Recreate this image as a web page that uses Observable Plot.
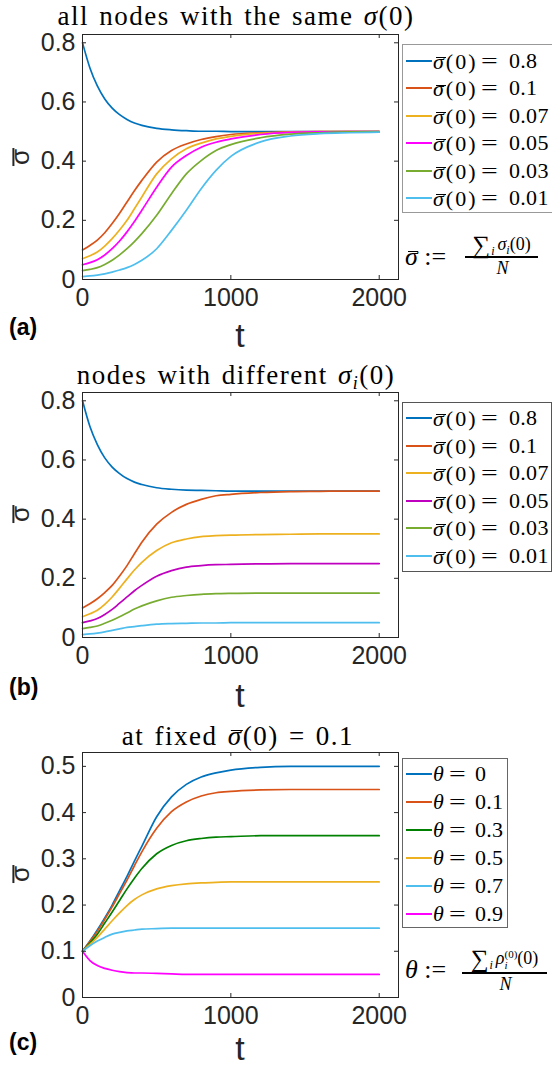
<!DOCTYPE html>
<html>
<head>
<meta charset="utf-8">
<script src="https://cdn.jsdelivr.net/npm/d3@7"></script>
<script src="https://cdn.jsdelivr.net/npm/@observablehq/plot@0.6"></script>
<style>
  html, body { margin: 0; padding: 0; background: #fff; }
  #root { position: relative; width: 552px; height: 1068px; overflow: hidden; background: #fff; }
  .abs { position: absolute; white-space: nowrap; line-height: 1; }
  .serif { font-family: "Liberation Serif", "DejaVu Serif", serif; color: #000; }
  .sans { font-family: "Liberation Sans", Arial, sans-serif; color: #262626; }
  .legend { position: absolute; background: #fff; box-sizing: border-box; }
  .part { position: absolute; top: 0; line-height: 24px; height: 24px; white-space: nowrap; }
  .sw { position: absolute; left: 3px; top: 11px; width: 26px; height: 2px; }
  .ylab { transform: translate(-50%, -50%) rotate(-90deg); }
  .ob { position: relative; display: inline-block; line-height: 1.2; }
  .ob > .barl { position: absolute; border-top: 1.4px solid currentColor; }
  .title { letter-spacing: 1.5px; word-spacing: 2px; }
  .stack { display: inline-flex; flex-direction: column; vertical-align: middle; line-height: 0.95; font-size: 11px; }
</style>
</head>
<body>
<div id="root"></div>
<script>
// ---------------- data ----------------
const tGrid = [0, 50, 100, 150, 200, 250, 300, 350, 400, 500, 600, 700, 800, 900, 1000, 1200, 1400, 1600, 1800, 2000];
const xTicks = [0, 1000, 2000];
const yTicksAB = [0, 0.2, 0.4, 0.6, 0.8];
const yTicksC = [0, 0.1, 0.2, 0.3, 0.4, 0.5];

// panel (a): all nodes with the same sigma(0)
const labelsA = ["0.8", "0.1", "0.07", "0.05", "0.03", "0.01"];
const a08 = [0.8, 0.715, 0.654, 0.610, 0.579, 0.557, 0.541, 0.529, 0.521, 0.511, 0.506, 0.503, 0.501, 0.501, 0.5, 0.5, 0.5, 0.5, 0.5, 0.5];
const a01 = [0.1, 0.115, 0.133, 0.158, 0.189, 0.224, 0.262, 0.300, 0.335, 0.397, 0.436, 0.458, 0.473, 0.483, 0.490, 0.496, 0.499, 0.5, 0.5, 0.5];
const a007 = [0.07, 0.080, 0.093, 0.113, 0.138, 0.167, 0.200, 0.239, 0.279, 0.357, 0.408, 0.442, 0.461, 0.475, 0.484, 0.494, 0.498, 0.5, 0.5, 0.5];
const a005 = [0.05, 0.057, 0.067, 0.083, 0.104, 0.130, 0.161, 0.196, 0.234, 0.312, 0.380, 0.419, 0.447, 0.464, 0.475, 0.490, 0.497, 0.499, 0.5, 0.5];
const a003 = [0.03, 0.034, 0.040, 0.051, 0.065, 0.083, 0.104, 0.128, 0.155, 0.217, 0.290, 0.357, 0.402, 0.436, 0.456, 0.479, 0.491, 0.496, 0.499, 0.5];
const a001 = [0.01, 0.012, 0.015, 0.019, 0.025, 0.032, 0.040, 0.051, 0.065, 0.104, 0.166, 0.234, 0.307, 0.369, 0.416, 0.465, 0.485, 0.493, 0.496, 0.498];
const colorsA = ["#0072BD", "#D95319", "#EDB120", "#FF00FF", "#77AC30", "#4DBEEE"];

// panel (b): nodes with different sigma_i(0)
const labelsB = ["0.8", "0.1", "0.07", "0.05", "0.03", "0.01"];
const b08 = [0.8, 0.713, 0.652, 0.607, 0.576, 0.554, 0.537, 0.525, 0.517, 0.506, 0.501, 0.498, 0.497, 0.496, 0.495, 0.495, 0.495, 0.495, 0.495, 0.495];
const b01 = [0.1, 0.114, 0.131, 0.152, 0.176, 0.208, 0.243, 0.283, 0.322, 0.383, 0.423, 0.450, 0.467, 0.479, 0.484, 0.490, 0.493, 0.494, 0.495, 0.495];
const b007 = [0.07, 0.080, 0.092, 0.112, 0.137, 0.167, 0.198, 0.228, 0.254, 0.294, 0.320, 0.333, 0.341, 0.344, 0.346, 0.348, 0.349, 0.35, 0.35, 0.35];
const b005 = [0.05, 0.056, 0.064, 0.078, 0.095, 0.116, 0.137, 0.158, 0.176, 0.207, 0.226, 0.238, 0.243, 0.246, 0.247, 0.249, 0.25, 0.25, 0.25, 0.25];
const b003 = [0.03, 0.034, 0.039, 0.048, 0.058, 0.070, 0.083, 0.096, 0.107, 0.124, 0.136, 0.142, 0.146, 0.148, 0.149, 0.15, 0.15, 0.15, 0.15, 0.15];
const b001 = [0.01, 0.012, 0.015, 0.019, 0.024, 0.029, 0.034, 0.037, 0.040, 0.045, 0.047, 0.048, 0.049, 0.049, 0.05, 0.05, 0.05, 0.05, 0.05, 0.05];
const colorsB = ["#0072BD", "#D95319", "#EDB120", "#BF00BF", "#77AC30", "#4DBEEE"];

// panel (c): at fixed sigma(0) = 0.1, different theta
const labelsC = ["0", "0.1", "0.3", "0.5", "0.7", "0.9"];
const c0 = [0.1, 0.122, 0.146, 0.172, 0.200, 0.231, 0.262, 0.295, 0.327, 0.391, 0.434, 0.461, 0.477, 0.486, 0.492, 0.498, 0.5, 0.5, 0.5, 0.5];
const c01 = [0.1, 0.121, 0.143, 0.169, 0.196, 0.225, 0.254, 0.285, 0.315, 0.366, 0.402, 0.423, 0.436, 0.443, 0.446, 0.449, 0.45, 0.45, 0.45, 0.45];
const c03 = [0.1, 0.118, 0.137, 0.161, 0.185, 0.210, 0.235, 0.258, 0.279, 0.311, 0.329, 0.339, 0.344, 0.347, 0.348, 0.35, 0.35, 0.35, 0.35, 0.35];
const c05 = [0.1, 0.115, 0.130, 0.148, 0.166, 0.183, 0.199, 0.212, 0.222, 0.235, 0.242, 0.246, 0.248, 0.249, 0.25, 0.25, 0.25, 0.25, 0.25, 0.25];
const c07 = [0.1, 0.112, 0.122, 0.130, 0.137, 0.141, 0.144, 0.146, 0.148, 0.149, 0.15, 0.15, 0.15, 0.15, 0.15, 0.15, 0.15, 0.15, 0.15, 0.15];
const c09 = [0.1, 0.080, 0.069, 0.063, 0.059, 0.056, 0.054, 0.053, 0.053, 0.052, 0.051, 0.05, 0.05, 0.05, 0.05, 0.05, 0.05, 0.05, 0.05, 0.05];
const colorsC = ["#0072BD", "#D95319", "#008000", "#EDB120", "#4DBEEE", "#FF00FF"];

// ---------------- layout ----------------
const root = document.getElementById("root");
const FL = 82, FR = 398, FW = FR - FL;   // frame left / right
const MT = 34, FH = 245, MB = 60;
const AX = "#262626";

function panel(series, colors, yMax, yTicks, frameTop) {
  const marks = series.map((vals, i) =>
    Plot.line(vals, {x: (d, j) => tGrid[j], y: d => d, stroke: colors[i], strokeWidth: 1.7, curve: "monotone-x"})
  );
  marks.push(
    Plot.tickY(yTicks, {y: d => d, insetRight: FW - 4, stroke: AX}),
    Plot.tickY(yTicks, {y: d => d, insetLeft: FW - 4, stroke: AX}),
    Plot.tickX(xTicks, {x: d => d, insetTop: FH - 4, stroke: AX}),
    Plot.tickX(xTicks, {x: d => d, insetBottom: FH - 4, stroke: AX}),
    Plot.frame({stroke: AX, strokeWidth: 1}),
    Plot.axisY(yTicks, {tickSize: 0, tickPadding: 7, label: null, tickFormat: d => String(d), fill: AX}),
    Plot.axisX(xTicks, {tickSize: 0, tickPadding: 9, label: null, tickFormat: d => String(d), fill: AX})
  );
  const svg = Plot.plot({
    width: 552, height: MT + FH + MB,
    marginLeft: FL, marginRight: 552 - FR, marginTop: MT, marginBottom: MB,
    x: {domain: [0, 2130]},
    y: {domain: [0, yMax]},
    style: {fontFamily: '"Liberation Sans", Arial, sans-serif', fontSize: "25px", color: AX, background: "transparent", overflow: "visible"},
    marks
  });
  svg.style.position = "absolute";
  svg.style.left = "0px";
  svg.style.top = (frameTop - MT) + "px";
  root.appendChild(svg);
}

function addText(html, cls, css) {
  const d = document.createElement("div");
  d.className = "abs " + cls;
  d.innerHTML = html;
  Object.assign(d.style, css);
  root.appendChild(d);
  return d;
}

// symbol with an overbar: bar offsets in em (line-height of .ob is 1.2)
function over(sym, l, r, t, w = 1.4) {
  return `<span class="ob">${sym}<span class="barl" style="left:${l}em;right:${r}em;top:${t}em;border-top-width:${w}px"></span></span>`;
}
const SBAR = over('<i>σ</i>', 0.12, 0.0, 0.37);     // serif sigma with bar

function legend(box, colors, parts, xs, first, step) {
  const L = document.createElement("div");
  L.className = "legend";
  Object.assign(L.style, {left: box.left + "px", top: box.top + "px", width: box.width + "px", height: box.height + "px", border: "1px solid " + box.border});
  parts.forEach((p, i) => {
    const r = document.createElement("div");
    Object.assign(r.style, {position: "absolute", left: "0px", top: (first + i * step - 12) + "px", width: "200px", height: "24px"});
    r.className = "serif";
    r.style.fontSize = "22px";
    r.innerHTML = `<span class="sw" style="background:${colors[i]}"></span>` +
      `<span class="part" style="left:${xs[0]}px;letter-spacing:${xs[3]}px">${p[0]}</span>` +
      `<span class="part" style="left:${xs[1]}px;transform:scaleX(1.35);transform-origin:left">=</span>` +
      `<span class="part" style="left:${xs[2]}px;letter-spacing:0.3px">${p[1]}</span>`;
    L.appendChild(r);
  });
  root.appendChild(L);
}

// panels
panel([a08, a01, a007, a005, a003, a001], colorsA, 0.828, yTicksAB, 34);
panel([b08, b01, b007, b005, b003, b001], colorsB, 0.828, yTicksAB, 392);
panel([c0, c01, c03, c05, c07, c09], colorsC, 0.53, yTicksC, 752);

// titles
addText('all nodes with the same <i>σ</i>(0)', "serif title", {left: "236px", top: "3px", fontSize: "27px", transform: "translateX(-50%)"});
addText('nodes with different <i>σ</i><sub style="font-size:18px;vertical-align:-5px"><i>i</i></sub>(0)', "serif title", {left: "236px", top: "362px", fontSize: "27px", transform: "translateX(-50%)"});
addText('at fixed ' + SBAR + '(0) = 0.1', "serif title", {left: "238px", top: "720px", fontSize: "27px", transform: "translateX(-50%)"});

// y labels (sans sigma with bar, rotated)
[157, 514, 874].forEach(cy => addText(over('σ', -0.02, -0.02, 0.26, 2), "sans ylab", {left: "21px", top: cy + "px", fontSize: "26px"}));
// x labels
[318, 678, 1031].forEach(y => addText('t', "sans", {left: "240px", top: y + "px", fontSize: "34px", transform: "translateX(-50%)"}));
// panel letters
[["(a)", 316], ["(b)", 676], ["(c)", 1031]].forEach(([s, y]) => addText(s, "sans", {left: "9px", top: y + "px", fontSize: "23px", fontWeight: "bold", color: "#000"}));

// legends
const sigParts = v => [SBAR + '(0)', v];
legend({left: 402, top: 44, width: 170, height: 169, border: "#999"}, colorsA, labelsA.map(sigParts), [30, 78, 106, 2], 16, 27.4);
legend({left: 402, top: 402, width: 150, height: 170, border: "#555"}, colorsB, labelsB.map(sigParts), [30, 78, 106, 2], 15, 27.5);
legend({left: 402, top: 758, width: 106, height: 170, border: "#666"}, colorsC, labelsC.map(v => ['<i>θ</i>', v]), [30, 46, 72, 0], 15, 28);

// formulas
function fraction(left, barY, lhs, num, barX, barW, numBottom) {
  addText(lhs, "serif", {left: left + "px", top: (barY - 16) + "px", fontSize: "26px"});
  addText(num, "serif", {left: (barX + barW / 2) + "px", top: (barY - numBottom) + "px", fontSize: "18px", transform: "translateX(-50%)"});
  const bar = document.createElement("div");
  Object.assign(bar.style, {position: "absolute", left: barX + "px", top: (barY - 1) + "px", width: barW + "px", height: "2px", background: "#000"});
  root.appendChild(bar);
  addText('<i>N</i>', "serif", {left: (barX + barW / 2 + 1) + "px", top: (barY + 2) + "px", fontSize: "18px", transform: "translateX(-50%)"});
}
const SUM = '<span style="font-size:25px;position:relative;top:3px">∑</span><i style="font-size:12px;position:relative;top:5px;margin-left:1px;margin-right:3px">i</i>';
fraction(405, 257, SBAR + ' :=', SUM + '<i>σ</i><i style="font-size:12px;position:relative;top:4px">i</i>(0)', 465, 73, 28);
fraction(405, 973, '<i>θ</i> :=', SUM + '<i>ρ</i><span class="stack"><span>(0)</span><i>i</i></span>(0)', 462, 85, 30);
</script>
</body>
</html>
